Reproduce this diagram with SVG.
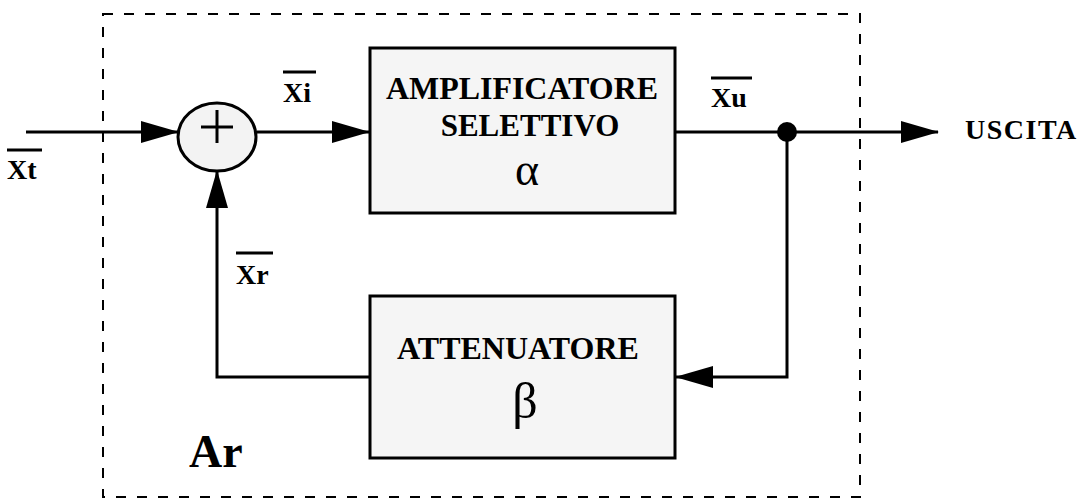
<svg xmlns="http://www.w3.org/2000/svg" width="1089" height="502" viewBox="0 0 1089 502">
<defs>
<marker id="ah" markerUnits="userSpaceOnUse" markerWidth="38" markerHeight="22" refX="37" refY="11" orient="auto">
<path d="M0,0 L38,11 L0,22 Z" fill="#000"/>
</marker>
<style>
.t{font-family:"Liberation Serif","Times New Roman",serif;font-weight:bold;fill:#000}
.g{font-family:"Liberation Serif","Times New Roman",serif;fill:#000}
.box{fill:#f5f5f5;stroke:#000;stroke-width:3}
.w{fill:none;stroke:#000;stroke-width:3}
.ov{stroke:#000;stroke-width:3}
</style>
</defs>
<rect x="103" y="14" width="757" height="483" fill="none" stroke="#000" stroke-width="2" stroke-dasharray="10 11"/>
<g id="connectors">
<line class="w" x1="26" y1="132" x2="178" y2="132" marker-end="url(#ah)"/>
<line class="w" x1="257" y1="132" x2="369" y2="132" marker-end="url(#ah)"/>
<line class="w" x1="674" y1="132" x2="938" y2="132" marker-end="url(#ah)"/>
<polyline class="w" points="787,132 787,377 676,377" marker-end="url(#ah)"/>
<polyline class="w" points="370,377 217,377 217,171" marker-end="url(#ah)"/>
<circle cx="787" cy="132" r="10" fill="#000"/>
</g>
<g id="sum">
<ellipse cx="217" cy="137" rx="39" ry="34" fill="#f3f3f3" stroke="#000" stroke-width="3"/>
<line class="ov" x1="201" y1="127" x2="233" y2="127" stroke-width="2"/>
<line class="ov" x1="217" y1="110" x2="217" y2="143" stroke-width="2"/>
</g>
<g id="amp">
<rect class="box" x="370" y="48" width="305" height="165"/>
<text class="t" x="522" y="99" font-size="31" text-anchor="middle" textLength="272" lengthAdjust="spacingAndGlyphs">AMPLIFICATORE</text>
<text class="t" x="530" y="136" font-size="31" text-anchor="middle">SELETTIVO</text>
<text class="g" x="527" y="185" font-size="46" text-anchor="middle">α</text>
</g>
<g id="att">
<rect class="box" x="370" y="296" width="305" height="162"/>
<text class="t" x="518" y="359" font-size="32" text-anchor="middle">ATTENUATORE</text>
<text class="g" x="525" y="418" font-size="50" text-anchor="middle">β</text>
</g>
<g id="labels">
<text class="t" x="7" y="179" font-size="28">Xt</text>
<line class="ov" x1="7" y1="150" x2="42" y2="150"/>
<text class="t" x="283" y="102" font-size="28">Xi</text>
<line class="ov" x1="283" y1="72" x2="316" y2="72"/>
<text class="t" x="711" y="107" font-size="28">Xu</text>
<line class="ov" x1="711" y1="78" x2="752" y2="78"/>
<text class="t" x="236" y="284" font-size="28">Xr</text>
<line class="ov" x1="236" y1="253" x2="273" y2="253"/>
<text class="t" x="965" y="139" font-size="28" letter-spacing="1.5">USCITA</text>
<text class="t" x="189" y="467" font-size="46">Ar</text>
</g>
</svg>
